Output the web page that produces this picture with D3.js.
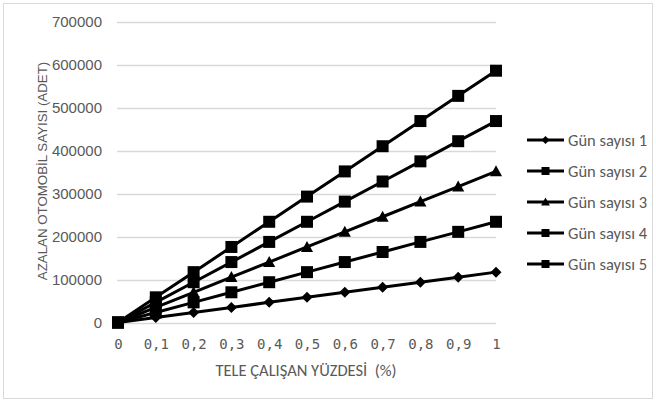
<!DOCTYPE html>
<html><head><meta charset="utf-8">
<script src="https://cdn.jsdelivr.net/npm/d3@7"></script>
<style>body{margin:0;background:#fff;}svg{display:block;}</style>
</head><body><svg id="c" width="656" height="403"></svg>
<script>
const xValues = [0, 0.1, 0.2, 0.3, 0.4, 0.5, 0.6, 0.7, 0.8, 0.9, 1];
const xTickLabels = ["0", "0,1", "0,2", "0,3", "0,4", "0,5", "0,6", "0,7", "0,8", "0,9", "1"];
const yTicks = [0, 100000, 200000, 300000, 400000, 500000, 600000, 700000];
const seriesNames = ["Gün sayısı 1", "Gün sayısı 2", "Gün sayısı 3", "Gün sayısı 4", "Gün sayısı 5"];
const seriesMarkers = ["diamond", "square", "triangle", "square", "square"];
const gun1 = [0, 11712, 23424, 35136, 46848, 58560, 70272, 81984, 93696, 105408, 117120];
const gun2 = [0, 23424, 46848, 70272, 93696, 117120, 140544, 163968, 187392, 210816, 234240];
const gun3 = [0, 35136, 70272, 105408, 140544, 175680, 210816, 245952, 281088, 316224, 351360];
const gun4 = [0, 46848, 93696, 140544, 187392, 234240, 281088, 327936, 374784, 421632, 468480];
const gun5 = [0, 58560, 117120, 175680, 234240, 292800, 351360, 409920, 468480, 527040, 585600];
const seriesValues = [gun1, gun2, gun3, gun4, gun5];

const svg = d3.select("#c");
svg.append("rect").attr("x", 3.5).attr("y", 3.5).attr("width", 649).attr("height", 395)
  .attr("fill", "#fff").attr("stroke", "#d9d9d9").attr("stroke-width", 1);

const x = d3.scaleLinear().domain([0, 1]).range([118, 496]);
const y = d3.scaleLinear().domain([0, 700000]).range([322.5, 21.5]);
const font = "Calibri, Carlito, 'Liberation Sans', 'Open Sans', sans-serif";
const sans = "'Liberation Sans', Arial, sans-serif";

// gridlines
svg.append("g").selectAll("line").data(yTicks).join("line")
  .attr("x1", 117).attr("x2", 496)
  .attr("y1", d => Math.round(y(d)) + 0.5).attr("y2", d => Math.round(y(d)) + 0.5)
  .attr("stroke", "#d9d9d9").attr("stroke-width", 1.3);

// y axis labels
const yAxis = d3.axisLeft(y).tickValues(yTicks).tickSize(0).tickPadding(0).tickFormat(d3.format("d"));
const gy = svg.append("g").attr("transform", "translate(102,0)").call(yAxis);
gy.select(".domain").remove();
gy.selectAll("text").attr("fill", "#595959").attr("font-size", "15px").attr("font-family", sans);

// x axis labels
const xAxis = d3.axisBottom(x).tickValues(xValues).tickSize(0).tickPadding(0).tickFormat((d, i) => xTickLabels[i]);
const gx = svg.append("g").attr("transform", "translate(0,339)").call(xAxis);
gx.select(".domain").remove();
gx.selectAll("text").attr("fill", "#595959").attr("font-size", "14px").attr("font-family", "'DejaVu Sans Mono', monospace");

// axis titles
svg.append("text").attr("x", 306).attr("y", 376).attr("text-anchor", "middle")
  .attr("fill", "#595959").attr("font-size", "16.5px").attr("font-family", font)
  .attr("xml:space", "preserve").style("white-space", "pre")
  .text("TELE ÇALIŞAN YÜZDESİ  (%)");
svg.append("text").attr("transform", "translate(42,171) rotate(-90)").attr("text-anchor", "middle")
  .attr("dy", "0.35em")
  .attr("fill", "#595959").attr("font-size", "13.3px").attr("font-family", sans)
  .text("AZALAN OTOMOBİL SAYISI (ADET)");

function markerPath(type, s) {
  if (type === "square") return `M${-s/2},${-s/2}h${s}v${s}h${-s}Z`;
  if (type === "diamond") return `M0,${-s/2}L${s/2},0L0,${s/2}L${-s/2},0Z`;
  return `M0,${-s*0.55}L${s*0.55},${s*0.45}L${-s*0.55},${s*0.45}Z`;
}
const markerSize = {square: 12, diamond: 11, triangle: 11};

const line = d3.line().x((d, i) => x(xValues[i])).y(d => y(d));
seriesValues.forEach((vals, si) => {
  const g = svg.append("g");
  g.append("path").attr("d", line(vals)).attr("fill", "none").attr("stroke", "#000")
    .attr("stroke-width", 3).attr("stroke-linejoin", "round");
  g.selectAll("path.m").data(vals).join("path").attr("class", "m")
    .attr("transform", (d, i) => `translate(${x(xValues[i])},${y(d)})`)
    .attr("d", markerPath(seriesMarkers[si], markerSize[seriesMarkers[si]])).attr("fill", "#000");
});

// legend
const leg = svg.append("g");
seriesNames.forEach((n, i) => {
  const yy = 140 + i * 31;
  leg.append("line").attr("x1", 527).attr("x2", 564).attr("y1", yy).attr("y2", yy)
    .attr("stroke", "#000").attr("stroke-width", 3);
  leg.append("path").attr("transform", `translate(545.5,${yy})`)
    .attr("d", markerPath(seriesMarkers[i], 8)).attr("fill", "#000");
  leg.append("text").attr("x", 568).attr("y", yy).attr("dy", "0.35em")
    .attr("fill", "#595959").attr("font-size", "16.5px").attr("font-family", font).text(n);
});
</script></body></html>
